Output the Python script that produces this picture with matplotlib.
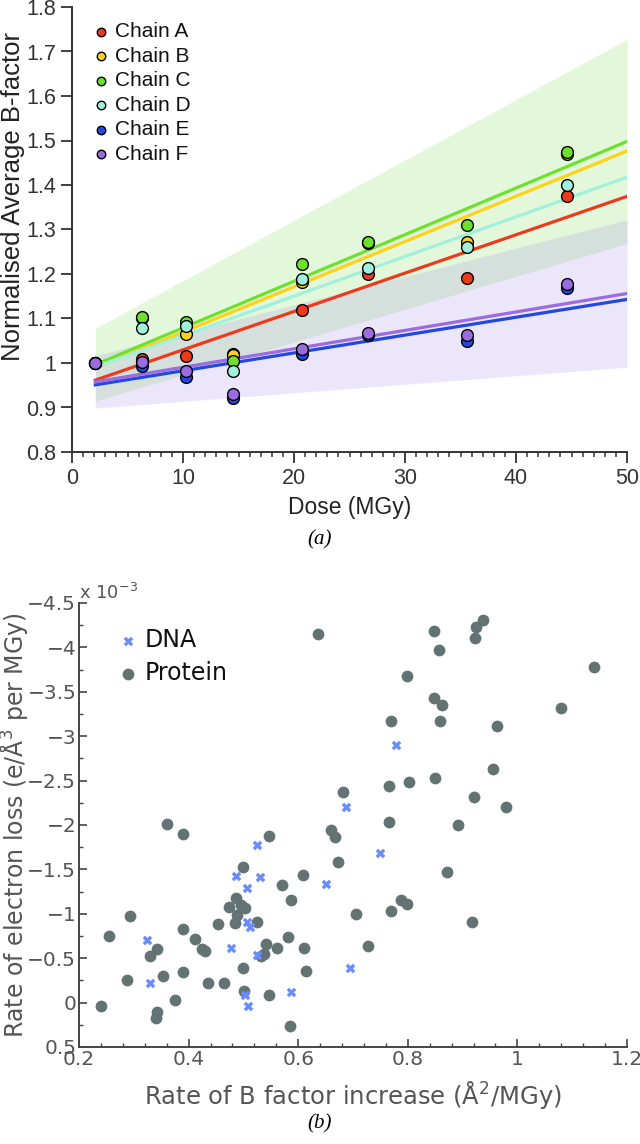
import numpy as np
import matplotlib
matplotlib.use("Agg")
import matplotlib.pyplot as plt
from matplotlib.ticker import MultipleLocator, FuncFormatter

# (a) normalised B-factor vs dose, one list per chain
dose = [2.1, 6.3, 10.3, 14.5, 20.7, 26.7, 35.6, 44.6]
chain_a = [1.0, 1.01, 1.016, 1.02, 1.12, 1.20, 1.191, 1.376]
chain_b = [1.0, 1.10, 1.065, 1.017, 1.183, 1.27, 1.273, 1.47]
chain_c = [1.0, 1.104, 1.092, 1.005, 1.222, 1.271, 1.309, 1.475]
chain_d = [1.0, 1.079, 1.083, 0.982, 1.189, 1.214, 1.261, 1.401]
chain_e = [1.0, 0.994, 0.969, 0.922, 1.020, 1.062, 1.049, 1.168]
chain_f = [1.0, 1.003, 0.983, 0.931, 1.032, 1.067, 1.064, 1.178]
chain_names = ['Chain A', 'Chain B', 'Chain C', 'Chain D', 'Chain E', 'Chain F']
chain_colors = ['#ee3a1c', '#ffd21a', '#6ee02e', '#a0f0dc', '#2348e0', '#9a6ce0']

# (b) rate of electron loss (x 1e-3) vs rate of B increase
protein_x = [0.636, 0.847, 0.938, 0.924, 0.923, 0.857, 1.14, 0.799, 0.847, 0.863,
             1.08, 0.769, 0.859, 0.963, 0.955, 0.766, 0.802, 0.849, 0.681, 0.921,
             0.979, 0.36, 0.389, 0.766, 0.891, 0.66, 0.667, 0.546, 0.673, 0.50,
             0.872, 0.608, 0.57, 0.487, 0.586, 0.788, 0.798, 0.474, 0.495, 0.503,
             0.293, 0.489, 0.705, 0.769, 0.918, 0.454, 0.485, 0.524, 0.389, 0.255,
             0.411, 0.581, 0.343, 0.33, 0.425, 0.43, 0.532, 0.538, 0.541, 0.561,
             0.61, 0.728, 0.615, 0.50, 0.389, 0.354, 0.287, 0.436, 0.465, 0.501,
             0.547, 0.375, 0.24, 0.342, 0.34, 0.585]
protein_y = [-4.15, -4.18, -4.31, -4.23, -4.11, -3.97, -3.78, -3.68, -3.43, -3.35,
             -3.32, -3.17, -3.17, -3.11, -2.63, -2.44, -2.48, -2.53, -2.37, -2.32,
             -2.20, -2.01, -1.90, -2.03, -2.00, -1.94, -1.87, -1.88, -1.58, -1.53,
             -1.47, -1.44, -1.32, -1.18, -1.15, -1.15, -1.11, -1.08, -1.10, -1.07,
             -0.98, -0.99, -1.00, -1.03, -0.91, -0.88, -0.90, -0.91, -0.83, -0.75,
             -0.72, -0.74, -0.60, -0.52, -0.60, -0.58, -0.52, -0.55, -0.66, -0.61,
             -0.62, -0.64, -0.36, -0.39, -0.34, -0.30, -0.25, -0.22, -0.22, -0.13,
             -0.09, -0.03, 0.04, 0.11, 0.17, 0.26]
dna_x = [0.778, 0.687, 0.525, 0.75, 0.487, 0.531, 0.651, 0.507, 0.506, 0.512,
         0.324, 0.477, 0.524, 0.695, 0.33, 0.503, 0.586, 0.509]
dna_y = [-2.90, -2.20, -1.77, -1.68, -1.43, -1.41, -1.33, -1.29, -0.91, -0.85,
         -0.70, -0.62, -0.54, -0.39, -0.22, -0.08, -0.12, 0.04]

W, H = 640, 1144
fig = plt.figure(figsize=(W / 100, H / 100), dpi=100)

def fit_line(x, y):
    # least squares line with standard errors of slope and intercept
    x = np.asarray(x); y = np.asarray(y)
    b, a = np.polyfit(x, y, 1)
    res = y - (a + b * x)
    s = np.sqrt(np.sum(res ** 2) / (len(x) - 2))
    sxx = np.sum((x - x.mean()) ** 2)
    se_b = s / np.sqrt(sxx)
    se_a = s * np.sqrt(1 / len(x) + x.mean() ** 2 / sxx)
    return a, b, se_a, se_b

# ---------------- (a) ----------------
helv = 'Liberation Sans'
ax = fig.add_axes([72 / W, 1 - 452 / H, (627 - 72) / W, (452 - 7) / H])
chains = [chain_a, chain_b, chain_c, chain_d, chain_e, chain_f]
xx = np.linspace(dose[0], 50, 50)

band_for = {2: ('#66dd33', 0.18), 5: ('#9977ee', 0.18)}
for i, (fc, al) in band_for.items():
    a, b, se_a, se_b = fit_line(dose, chains[i])
    up = (a + 1.96 * se_a) + (b + 1.96 * se_b) * xx
    lo = (a - 1.96 * se_a) + (b - 1.96 * se_b) * xx
    ax.fill_between(xx, lo, up, color=fc, alpha=al, lw=0, zorder=1)

for i, c in enumerate(chains):
    a, b, _, _ = fit_line(dose, c)
    ax.plot(xx, a + b * xx, color=chain_colors[i], lw=2.3, zorder=2)
for i, c in enumerate(chains):
    ax.scatter(dose, c, s=72, color=chain_colors[i], edgecolor='black', lw=1.0,
               zorder=3, label=chain_names[i])

ax.set_xlim(0, 50)
ax.set_ylim(0.8, 1.8)
ax.xaxis.set_major_locator(MultipleLocator(10))
ax.xaxis.set_minor_locator(MultipleLocator(1))
ax.yaxis.set_major_locator(MultipleLocator(0.1))
ax.yaxis.set_major_formatter(FuncFormatter(lambda v, p: '%g' % round(v, 2)))
for s in ['top', 'right']:
    ax.spines[s].set_visible(False)
for s in ['left', 'bottom']:
    ax.spines[s].set_color('#333333')
    ax.spines[s].set_linewidth(1.4)
ax.tick_params(which='major', direction='out', length=8, width=1.3, colors='#333333',
               labelsize=15.5, labelcolor='#333333', pad=3.5)
ax.tick_params(which='minor', direction='out', length=3.4, width=1.1, colors='#333333')
for t in ax.get_xticklabels() + ax.get_yticklabels():
    t.set_family(helv)
ax.set_xlabel('Dose (MGy)', fontsize=16.5, family=helv, color='#222222')
ax.xaxis.set_label_coords(0.5, -(496 - 452) / 445)
ax.set_ylabel('Normalised Average B-factor', fontsize=18.5, family=helv, color='#222222')
ax.yaxis.set_label_coords(-(72 - 25) / 555, 0.575)
leg = ax.legend(loc='upper left', bbox_to_anchor=(0.022, 0.984), frameon=False,
                prop={'family': helv, 'size': 15}, handlelength=0.8, handletextpad=0.3,
                labelspacing=0.26, markerscale=0.72, borderaxespad=0)
for t in leg.get_texts():
    t.set_color('#111111')

fig.text(0.5, 1 - 540 / H, '(a)', ha='center', va='center', fontsize=15,
         family='Liberation Serif', style='italic')

# ---------------- (b) ----------------
gray = '#555555'
bx = fig.add_axes([79 / W, 1 - 1047 / H, (627 - 79) / W, (1047 - 603) / H])
bx.scatter(dna_x, dna_y, marker='X', s=48, color='#6a8cff', lw=0, zorder=3, label='DNA')
bx.scatter(protein_x, protein_y, marker='o', s=72, color='#637373', lw=0, zorder=2,
           label='Protein')
bx.set_xlim(0.2, 1.2)
bx.set_ylim(0.5, -4.5)
bx.xaxis.set_major_locator(MultipleLocator(0.2))
bx.xaxis.set_minor_locator(MultipleLocator(0.04))
bx.yaxis.set_major_locator(MultipleLocator(0.5))
bx.yaxis.set_minor_locator(MultipleLocator(0.25))
fmt = FuncFormatter(lambda v, p: ('%g' % round(v, 2)).replace('-', '\u2212'))
bx.xaxis.set_major_formatter(fmt)
bx.yaxis.set_major_formatter(fmt)
for s in ['top', 'right']:
    bx.spines[s].set_visible(False)
for s in ['left', 'bottom']:
    bx.spines[s].set_color('#444444')
    bx.spines[s].set_linewidth(1.4)
bx.tick_params(which='major', direction='in', length=6, width=1.2, colors='#444444',
               labelsize=14.5, labelcolor=gray, pad=2)
bx.tick_params(which='minor', direction='in', length=3, width=1.0, colors='#444444')
bx.set_xlabel('Rate of B factor increase (Å$^2$/MGy)', fontsize=17.5, color=gray)
bx.xaxis.set_label_coords(0.5, -(1079 - 1047) / 444)
bx.set_ylabel('Rate of electron loss (e/Å$^3$ per MGy)', fontsize=17, color=gray)
bx.yaxis.set_label_coords(-(79 - 30) / 548, 0.5)
bx.text(0.0, 1.0, 'x 10$^{-3}$', transform=bx.transAxes, fontsize=13, color=gray,
        ha='left', va='bottom')
leg2 = bx.legend(loc='upper left', bbox_to_anchor=(0.055, 0.964), frameon=False,
                 fontsize=17, handlelength=0.8, handletextpad=0.3, labelspacing=0.37,
                 borderaxespad=0)
for t in leg2.get_texts():
    t.set_color('#111111')

fig.text(0.5, 1 - 1124 / H, '(b)', ha='center', va='center', fontsize=15,
         family='Liberation Serif', style='italic')

fig.savefig('out.png', dpi=100)
